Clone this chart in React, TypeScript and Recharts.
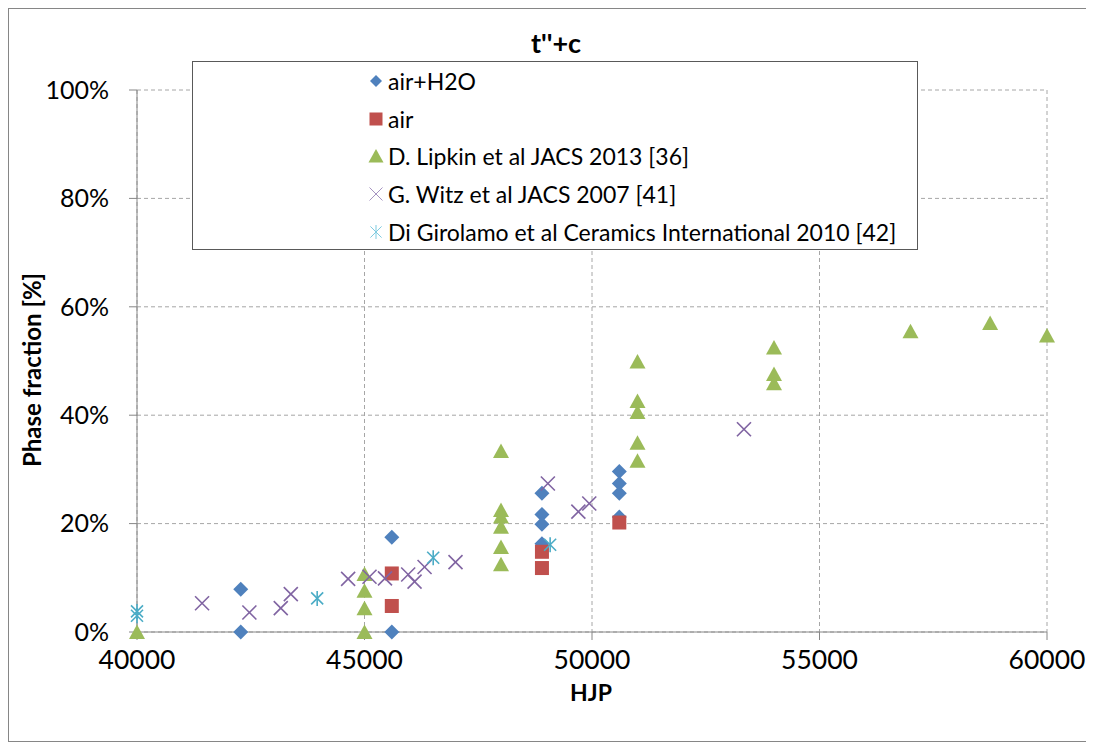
import React from 'react';
import { ScatterChart, Scatter, XAxis, YAxis, CartesianGrid, Legend } from 'recharts';

const xTicks = [40000, 45000, 50000, 55000, 60000];
const yTicks = [0, 20, 40, 60, 80, 100];

const seriesNames = [
  'air+H2O',
  'air',
  'D. Lipkin et al JACS 2013 [36]',
  'G. Witz et al JACS 2007 [41]',
  'Di Girolamo et al Ceramics International 2010 [42]',
];
const seriesColors = ['#4f81bd', '#c0504d', '#9bbb59', '#8064a2', '#4bacc6'];
const seriesKinds = ['diamond', 'square', 'triangle', 'x', 'star'];

const airH2OX = [42280, 42280, 45600, 45600, 48900, 48900, 48900, 48900, 50600, 50600, 50600, 50600];
const airH2OY = [0, 7.9, 17.5, 0, 25.6, 21.7, 19.9, 16.3, 29.6, 27.4, 25.6, 21.2];

const airX = [45600, 45600, 48900, 48900, 50600];
const airY = [10.8, 4.8, 14.8, 11.8, 20.2];

const lipkinX = [40000, 45000, 45000, 45000, 45000, 48000, 48000, 48000, 48000, 48000, 48000,
  51000, 51000, 51000, 51000, 51000, 54000, 54000, 54000, 57000, 58750, 60000];
const lipkinY = [0, 10.7, 7.6, 4.4, 0, 33.4, 22.5, 21.3, 19.4, 15.7, 12.5,
  49.9, 42.6, 40.6, 34.9, 31.6, 52.5, 47.6, 45.9, 55.5, 57.0, 54.7];

const witzX = [41430, 42470, 43160, 43380, 44640, 45110, 45450, 45960, 46100, 46320, 47000, 49030, 49700, 49940, 53340];
const witzY = [5.3, 3.6, 4.4, 7.0, 9.8, 10.2, 9.9, 10.6, 9.3, 12.0, 12.9, 27.4, 22.2, 23.7, 37.4];

const giroX = [40000, 40000, 43960, 46510, 49080];
const giroY = [3.8, 3.0, 6.2, 13.7, 16.1];

const toPoints = (xs: number[], ys: number[]) => xs.map((x, i) => ({ x, y: ys[i] }));
const seriesData = [
  toPoints(airH2OX, airH2OY),
  toPoints(airX, airY),
  toPoints(lipkinX, lipkinY),
  toPoints(witzX, witzY),
  toPoints(giroX, giroY),
];

const FONT = 'Lato, "Open Sans", sans-serif';

function markerShape(kind: string, cx: number, cy: number, color: string, s: number, thin = false) {
  const h = s / 2;
  if (kind === 'diamond') {
    return <polygon points={`${cx},${cy - h} ${cx + h},${cy} ${cx},${cy + h} ${cx - h},${cy}`} fill={color} />;
  }
  if (kind === 'square') {
    return <rect x={cx - h} y={cy - h} width={s} height={s} fill={color} />;
  }
  if (kind === 'triangle') {
    return <polygon points={`${cx},${cy - h} ${cx + h + 0.5},${cy + h - 0.5} ${cx - h - 0.5},${cy + h - 0.5}`} fill={color} />;
  }
  const sw = thin ? 1 : 1.6;
  if (kind === 'x') {
    return (
      <g stroke={color} strokeWidth={sw}>
        <line x1={cx - h} y1={cy - h} x2={cx + h} y2={cy + h} />
        <line x1={cx - h} y1={cy + h} x2={cx + h} y2={cy - h} />
      </g>
    );
  }
  const d = h * 0.8;
  return (
    <g stroke={color} strokeWidth={sw}>
      <line x1={cx - d} y1={cy - d} x2={cx + d} y2={cy + d} />
      <line x1={cx - d} y1={cy + d} x2={cx + d} y2={cy - d} />
      <line x1={cx} y1={cy - h} x2={cx} y2={cy + h} />
    </g>
  );
}

const markerSizes = [15, 14, 15, 14, 15];
const legendSizes = [12, 13, 14, 13, 14];

function LegendBox() {
  return (
    <div
      style={{
        position: 'relative',
        width: 726,
        height: 189,
        boxSizing: 'border-box',
        border: '1px solid #595959',
        background: '#ffffff',
        fontFamily: FONT,
      }}
    >
      {seriesNames.map((name, i) => {
        const cy = 19 + i * 37.7;
        return (
          <div key={name} style={{ position: 'absolute', left: 0, top: cy - 15, height: 30, width: 720 }}>
            <svg width={20} height={20} style={{ position: 'absolute', left: 173, top: 5 }}>
              {markerShape(seriesKinds[i], 10, 10, i === 3 ? '#a593c1' : i === 4 ? '#7fcbe0' : seriesColors[i], legendSizes[i], true)}
            </svg>
            <span
              style={{
                position: 'absolute',
                left: 195,
                top: 0,
                lineHeight: '30px',
                fontSize: 23,
                color: '#000',
                whiteSpace: 'nowrap',
              }}
            >
              {name}
            </span>
          </div>
        );
      })}
    </div>
  );
}

export default function App() {
  return (
    <div
      style={{
        position: 'relative',
        width: 1083,
        height: 734,
        boxSizing: 'border-box',
        border: '1px solid #868686',
        background: '#fff',
        fontFamily: FONT,
      }}
    >
      <ScatterChart width={1081} height={732} margin={{ top: 81, right: 43, bottom: 49, left: 0 }}>
        <CartesianGrid stroke="#a6a6a6" strokeDasharray="4 3" />
        <XAxis
          type="number"
          dataKey="x"
          domain={[40000, 60000]}
          ticks={xTicks}
          interval={0}
          height={60}
          tickSize={8}
          tickMargin={10}
          axisLine={{ stroke: '#868686' }}
          tickLine={{ stroke: '#868686' }}
          tick={{ fill: '#000', fontSize: 26.5, fontFamily: FONT }}
        />
        <YAxis
          type="number"
          dataKey="y"
          domain={[0, 100]}
          ticks={yTicks}
          interval={0}
          width={128}
          tickSize={8}
          tickMargin={20}
          tickFormatter={(v: number) => `${v}%`}
          axisLine={{ stroke: '#868686' }}
          tickLine={{ stroke: '#868686' }}
          tick={{ fill: '#000', fontSize: 25, fontFamily: FONT }}
        />
        {seriesData.map((data, i) => (
          <Scatter
            key={seriesNames[i]}
            name={seriesNames[i]}
            data={data}
            fill={seriesColors[i]}
            isAnimationActive={false}
            shape={(p: any) => markerShape(seriesKinds[i], p.cx, p.cy, seriesColors[i], markerSizes[i])}
          />
        ))}
        <Legend
          layout="vertical"
          align="center"
          verticalAlign="middle"
          wrapperStyle={{ left: 183, top: 52, width: 726, height: 189 }}
          content={() => <LegendBox />}
        />
      </ScatterChart>
      <div
        style={{
          position: 'absolute',
          left: 547,
          top: 33,
          transform: 'translate(-50%, -50%)',
          fontSize: 27,
          fontWeight: 700,
          whiteSpace: 'nowrap',
          lineHeight: 1,
        }}
      >
        t''+c
      </div>
      <div
        style={{
          position: 'absolute',
          left: 23,
          top: 361,
          transform: 'translate(-50%, -50%) rotate(-90deg)',
          fontSize: 24,
          fontWeight: 700,
          whiteSpace: 'nowrap',
          lineHeight: 1,
        }}
      >
        Phase fraction [%]
      </div>
      <div
        style={{
          position: 'absolute',
          left: 582,
          top: 683,
          transform: 'translate(-50%, -50%)',
          fontSize: 23,
          fontWeight: 700,
          whiteSpace: 'nowrap',
          lineHeight: 1,
        }}
      >
        HJP
      </div>
    </div>
  );
}
